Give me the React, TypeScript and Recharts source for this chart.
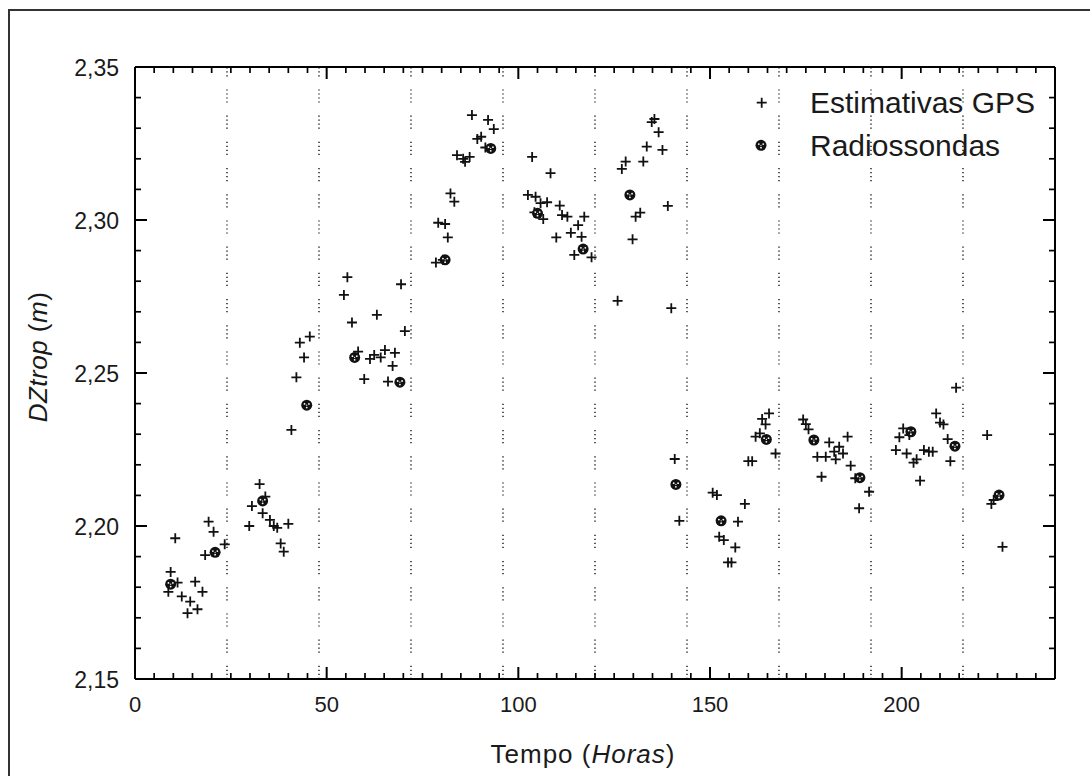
import React from 'react';
import {
  ScatterChart, Scatter, XAxis, YAxis, ReferenceLine, Legend,
} from 'recharts';

// Estimativas GPS (hours, DZtrop in m)
const GPS_HOURS = [
  8.7, 9.3, 10.5, 11.1, 12.2, 13.7, 14.4, 15.7, 16.3, 17.6, 18.3, 19.2, 20.5, 23.4,
  29.8, 30.5, 32.5, 33.3, 34.0, 35.2, 36.2, 37.1, 38.0, 38.8, 40.0,
  40.8, 42.1, 43.0, 44.1, 45.6,
  54.5, 55.4, 56.6, 58.2, 59.8, 61.3, 62.4, 63.1, 64.1, 65.2, 66.0, 67.2, 67.8, 69.4, 70.4,
  78.5, 80.3, 79.1, 80.9, 81.6, 82.3, 83.3, 84.0, 85.6, 86.1, 87.3, 87.9, 89.3, 90.3, 91.4, 92.1, 93.6,
  102.5, 103.6, 104.2, 104.5, 105.8, 106.5, 107.5, 108.4, 109.9, 110.8, 111.4, 112.8, 113.7, 114.6, 115.6, 116.5, 117.2, 119.1,
  125.9, 127.0, 128.0, 129.8, 130.6, 131.8, 132.6, 133.5, 134.8, 135.5, 136.6, 137.6, 139.0, 139.9,
  140.8, 142.0,
  150.7, 151.8, 152.4, 153.6, 154.7, 155.6, 156.6, 157.3, 159.1, 160.0, 161.0, 161.9, 163.0, 163.6, 164.5, 165.4, 167.1,
  174.3, 175.0, 175.7, 178.0, 179.1, 180.2, 181.1, 182.4, 182.8, 183.7, 184.7, 185.9, 186.7, 187.9, 188.9, 191.5,
  198.5, 199.4, 200.4, 201.3, 202.0, 203.1, 203.9, 204.8, 205.8, 207.1, 208.1, 209.0, 210.0, 210.9, 212.0, 212.7, 214.2,
  222.3, 223.4, 224.0, 226.3,
];
const GPS_DZ = [
  2.1785, 2.185, 2.196, 2.1815, 2.177, 2.1715, 2.1753, 2.1818, 2.1728, 2.1785, 2.1905, 2.2014, 2.1981, 2.194,
  2.200, 2.2065, 2.2137, 2.2042, 2.2096, 2.202, 2.200, 2.1994, 2.1943, 2.1916, 2.2007,
  2.2314, 2.2486, 2.2599, 2.2551, 2.2619,
  2.2755, 2.2813, 2.2665, 2.257, 2.248, 2.2546, 2.2559, 2.269, 2.2551, 2.2575, 2.2472, 2.2523, 2.2566, 2.279, 2.2637,
  2.2861, 2.287, 2.2991, 2.2987, 2.2943, 2.3087, 2.306, 2.3212, 2.320, 2.319, 2.3206, 2.3343, 2.3265, 2.3272, 2.3237, 2.3327, 2.3297,
  2.3082, 2.3206, 2.3025, 2.3076, 2.3055, 2.3003, 2.3058, 2.3153, 2.2943, 2.3047, 2.3016, 2.3011, 2.2958, 2.2886, 2.2983, 2.2945, 2.3011, 2.2878,
  2.2736, 2.3167, 2.3191, 2.2937, 2.3011, 2.3024, 2.3191, 2.324, 2.332, 2.333, 2.3287, 2.3229, 2.3046, 2.2712,
  2.2219, 2.2017,
  2.2109, 2.2101, 2.1965, 2.1954, 2.1881, 2.1881, 2.193, 2.2014, 2.2072, 2.2212, 2.2212, 2.2292, 2.2303, 2.235, 2.2332, 2.2368, 2.2237,
  2.2348, 2.2333, 2.2316, 2.2226, 2.2161, 2.2226, 2.2273, 2.2243, 2.2218, 2.2259, 2.2237, 2.2292, 2.2197, 2.2156, 2.2058, 2.2112,
  2.2248, 2.229, 2.2319, 2.2237, 2.2297, 2.2207, 2.2218, 2.2148, 2.2248, 2.2243, 2.2243, 2.2368, 2.2338, 2.2332, 2.2284, 2.2212, 2.2452,
  2.2297, 2.2072, 2.2085, 2.1932,
];

// Radiossondas
const RS_HOURS = [9.3, 20.9, 33.3, 44.8, 57.3, 69.1, 80.9, 92.8, 105.0, 116.9, 129.1, 141.1, 152.9, 164.7, 177.1, 189.1, 202.4, 213.9, 225.4];
const RS_DZ = [2.181, 2.1914, 2.2082, 2.2395, 2.2551, 2.247, 2.287, 2.3234, 2.3022, 2.2905, 2.3082, 2.2136, 2.2017, 2.2283, 2.2281, 2.2158, 2.2308, 2.2261, 2.2101];

// dotted lines every 24 h
const DAY_LINES = [24, 48, 72, 96, 120, 144, 168, 192, 216];

const X_LABELS = [0, 50, 100, 150, 200];
const Y_LABELS = [2.15, 2.2, 2.25, 2.3, 2.35];
const X_MIN = 0, X_MAX = 240;
const Y_MIN = 2.15, Y_MAX = 2.35;

const X_TICKS = Array.from({ length: 49 }, (_, i) => i * 5);
const Y_TICKS = Array.from({ length: 21 }, (_, i) => Math.round((2.15 + i * 0.01) * 100) / 100);

const gpsData = GPS_HOURS.map((h, i) => ({ x: h, y: GPS_DZ[i] }));
const rsData = RS_HOURS.map((h, i) => ({ x: h, y: RS_DZ[i] }));

const FONT = '"Liberation Sans", Arial, sans-serif';
const INK = '#1a1a1a';

const isMajorX = (v: number) => X_LABELS.includes(v);
const isMajorY = (v: number) => Y_LABELS.some(l => Math.abs(l - v) < 1e-6);

// frame tick marks: one point per tick on each edge, drawn inward by the shape
const frameTicks = [
  ...X_TICKS.map(v => ({ x: v, y: Y_MIN, side: 'b', major: isMajorX(v) })),
  ...X_TICKS.map(v => ({ x: v, y: Y_MAX, side: 't', major: isMajorX(v) })),
  ...Y_TICKS.map(v => ({ x: X_MIN, y: v, side: 'l', major: isMajorY(v) })),
  ...Y_TICKS.map(v => ({ x: X_MAX, y: v, side: 'r', major: isMajorY(v) })),
];

const FRAME = [
  [{ x: X_MIN, y: Y_MIN }, { x: X_MAX, y: Y_MIN }],
  [{ x: X_MIN, y: Y_MAX }, { x: X_MAX, y: Y_MAX }],
  [{ x: X_MIN, y: Y_MIN }, { x: X_MIN, y: Y_MAX }],
  [{ x: X_MAX, y: Y_MIN }, { x: X_MAX, y: Y_MAX }],
];

const TickShape = (props: any) => {
  const { cx, cy, payload } = props;
  const len = payload.major ? 12 : 6;
  const w = payload.major ? 2 : 1.7;
  let d = '';
  if (payload.side === 'b') d = `M${cx},${cy}v${-len}`;
  else if (payload.side === 't') d = `M${cx},${cy}v${len}`;
  else if (payload.side === 'l') d = `M${cx},${cy}h${len}`;
  else d = `M${cx},${cy}h${-len}`;
  return <path d={d} stroke="#000" strokeWidth={w} fill="none" />;
};

const XLabel = ({ x, y, payload }: any) =>
  isMajorX(payload.value) ? (
    <text x={x} y={y + 33} textAnchor="middle" fontSize={22} fontFamily={FONT} fill={INK}>{payload.value}</text>
  ) : <g />;

const YLabel = ({ x, y, payload }: any) =>
  isMajorY(payload.value) ? (
    <text x={x - 16} y={y + 8.5} textAnchor="end" fontSize={23} fontFamily={FONT} fill={INK}>
      {payload.value.toFixed(2).replace('.', ',')}
    </text>
  ) : <g />;

const PlusShape = ({ cx, cy }: any) => (
  <path d={`M${cx - 5},${cy}h10M${cx},${cy - 5}v10`} stroke="#111" strokeWidth={1.8} fill="none" />
);

const SondeShape = ({ cx, cy }: any) => (
  <g>
    <circle cx={cx} cy={cy} r={5.5} fill="#111" />
    <circle cx={cx - 2.2} cy={cy - 1.2} r={0.9} fill="#fff" />
    <circle cx={cx + 2.2} cy={cy - 1.2} r={0.9} fill="#fff" />
    <circle cx={cx} cy={cy + 2.4} r={0.9} fill="#fff" />
    <circle cx={cx} cy={cy} r={0.6} fill="#fff" />
  </g>
);

const LegendBox = () => (
  <svg width={340} height={90} style={{ display: 'block' }}>
    <PlusShape cx={21.7} cy={22.7} />
    <text x={70} y={33} fontSize={30} fontFamily={FONT} fill={INK}>Estimativas GPS</text>
    <SondeShape cx={21} cy={65.3} />
    <text x={70} y={76} fontSize={30} fontFamily={FONT} fill={INK}>Radiossondas</text>
  </svg>
);

const YTitle = ({ viewBox }: any) => {
  const x = viewBox.x + 47;
  const y = viewBox.y + viewBox.height / 2 - 16;
  return (
    <text x={x} y={y} transform={`rotate(-90, ${x}, ${y})`} textAnchor="middle" fontSize={26} letterSpacing={0.5} fontFamily={FONT} fill={INK}>
      <tspan fontStyle="italic">DZtrop</tspan> (<tspan fontStyle="italic">m</tspan>)
    </text>
  );
};

const XTitle = ({ viewBox }: any) => {
  const x = viewBox.x + viewBox.width / 2 - 12;
  const y = viewBox.y + 84;
  return (
    <text x={x} y={y} textAnchor="middle" fontSize={26} letterSpacing={1} fontFamily={FONT} fill={INK}>
      Tempo (<tspan fontStyle="italic">Horas</tspan>)
    </text>
  );
};

export default function App() {
  return (
    <div style={{ position: 'fixed', left: 0, top: 0, width: 1090, height: 776, overflow: 'hidden', background: '#fff' }}>
      <div style={{ position: 'absolute', left: 8, top: 9, width: 1200, height: 900, border: '2px solid #333' }} />
      <div style={{ position: 'absolute', left: 0, top: 0 }}>
        <ScatterChart width={1090} height={776} margin={{ top: 67, right: 35, bottom: 7, left: 0 }}>
          <XAxis
            dataKey="x" type="number" domain={[X_MIN, X_MAX]} ticks={X_TICKS} interval={0}
            allowDataOverflow height={90} axisLine={false} tickLine={false} tickSize={0} tickMargin={0}
            tick={(p: any) => <XLabel {...p} />}
            label={{ content: (p: any) => <XTitle {...p} /> }}
          />
          <YAxis
            dataKey="y" type="number" domain={[Y_MIN, Y_MAX]} ticks={Y_TICKS} interval={0}
            allowDataOverflow width={135} axisLine={false} tickLine={false} tickSize={0} tickMargin={0}
            tick={(p: any) => <YLabel {...p} />}
            label={{ content: (p: any) => <YTitle {...p} /> }}
          />
          {DAY_LINES.map(h => (
            <ReferenceLine key={h} x={h} stroke="#222" strokeWidth={1.5} strokeDasharray="1.2 2.8 1.2 2.8 1.2 2.8 1.2 13" />
          ))}
          {FRAME.map((seg, i) => (
            <ReferenceLine key={`f${i}`} segment={seg} stroke="#000" strokeWidth={2} ifOverflow="visible" />
          ))}
          <Scatter name="ticks" data={frameTicks} shape={TickShape} isAnimationActive={false} legendType="none" />
          <Scatter name="Estimativas GPS" data={gpsData} shape={PlusShape} isAnimationActive={false} />
          <Scatter name="Radiossondas" data={rsData} shape={SondeShape} isAnimationActive={false} />
          <Legend
            layout="vertical" align="center" verticalAlign="middle"
            wrapperStyle={{ left: 740, top: 80, width: 340, height: 90 }}
            content={() => <LegendBox />}
          />
        </ScatterChart>
      </div>
    </div>
  );
}
